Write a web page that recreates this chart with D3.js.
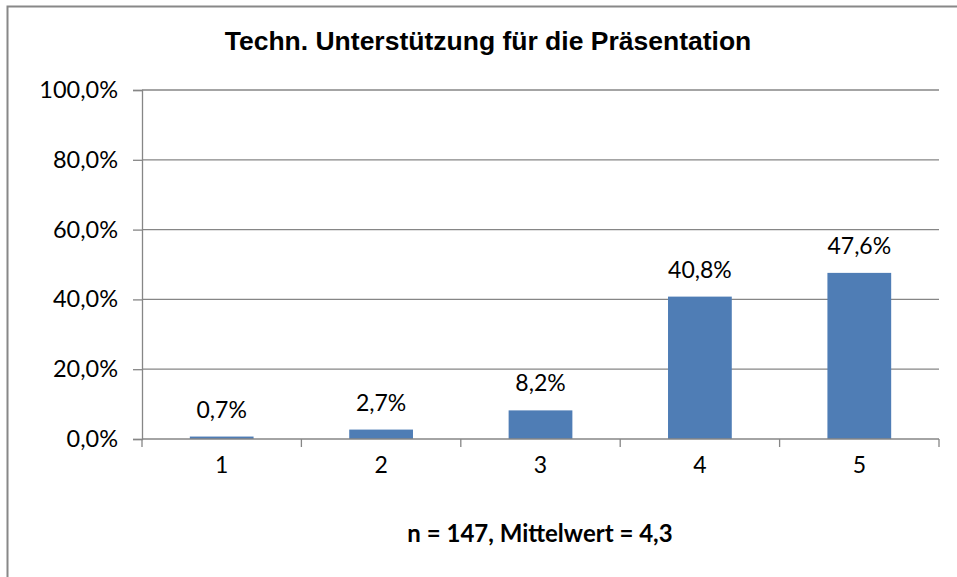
<!DOCTYPE html>
<html>
<head>
<meta charset="utf-8">
<script src="https://cdn.jsdelivr.net/npm/d3@7"></script>
<style>
	body { margin: 0; background: #fff; }
	.tick text { font-family: Lato, "Open Sans", sans-serif; font-size: 23.5px; fill: #000; }
</style>
</head>
<body>
<div id="chart"></div>
<script>
var categories = ["1", "2", "3", "4", "5"];
var values = [0.7, 2.7, 8.2, 40.8, 47.6];
var yTicks = [0, 20, 40, 60, 80, 100];
var title = "Techn. Unterstützung für die Präsentation";
var subtitle = "n = 147, Mittelwert = 4,3";

var W = 957, H = 577;
var margin = {top: 90, right: 18, bottom: 138, left: 142},
	width = W - margin.left - margin.right,
	height = H - margin.top - margin.bottom;

var fmt = function(v) { return v.toFixed(1).replace(".", ",") + "%"; };

var svg = d3.select("#chart")
	.append("svg")
	.attr("width", W)
	.attr("height", H);

// outer chart frame (right / bottom edges fall outside the picture)
svg.append("rect")
	.attr("x", 7.5)
	.attr("y", 6.5)
	.attr("width", W + 10)
	.attr("height", H + 10)
	.attr("fill", "none")
	.attr("stroke", "#888")
	.attr("stroke-width", 2);

svg.append("text")
	.attr("x", 488)
	.attr("y", 50)
	.attr("text-anchor", "middle")
	.style("font-family", "'Liberation Sans', Arial, sans-serif")
	.style("font-weight", "bold")
	.style("font-size", "26.5px")
	.text(title);

var g = svg.append("g")
	.attr("transform", "translate(" + margin.left + "," + margin.top + ")");

var x = d3.scaleBand().domain(categories).range([0, width]).paddingInner(0.6).paddingOuter(0.3);
var y = d3.scaleLinear().domain([0, 100]).range([height, 0]);

// gridlines
g.selectAll(".grid")
	.data(yTicks.slice(1))
	.enter().append("line")
	.attr("x1", 0)
	.attr("x2", width)
	.attr("y1", function(d) { return y(d); })
	.attr("y2", function(d) { return y(d); })
	.attr("stroke", "#868686")
	.attr("stroke-width", 1.3);

var yAxis = g.append("g")
	.call(d3.axisLeft(y).tickValues(yTicks).tickSize(9).tickPadding(15).tickFormat(fmt));
yAxis.select(".domain").attr("stroke", "#868686").attr("stroke-width", 1.3);
yAxis.selectAll(".tick line").attr("stroke", "#868686").attr("stroke-width", 1.3);

g.selectAll(".bar")
	.data(values)
	.enter().append("rect")
	.attr("x", function(d, i) { return x(categories[i]); })
	.attr("y", function(d) { return y(d); })
	.attr("width", x.bandwidth())
	.attr("height", function(d) { return height - y(d); })
	.attr("fill", "#4f7db5");

g.selectAll(".label")
	.data(values)
	.enter().append("text")
	.attr("x", function(d, i) { return x(categories[i]) + x.bandwidth() / 2; })
	.attr("y", function(d) { return y(d) - 19; })
	.attr("text-anchor", "middle")
	.style("font-family", "Lato, 'Open Sans', sans-serif")
	.style("font-size", "23px")
	.text(fmt);

// x axis with ticks between categories
var xAxis = g.append("g")
	.attr("transform", "translate(0," + height + ")");
xAxis.append("line")
	.attr("x1", 0).attr("x2", width)
	.attr("stroke", "#868686").attr("stroke-width", 1.3);
xAxis.selectAll(".sep")
	.data(d3.range(categories.length + 1))
	.enter().append("line")
	.attr("x1", function(i) { return i * x.step(); })
	.attr("x2", function(i) { return i * x.step(); })
	.attr("y1", 0).attr("y2", 8)
	.attr("stroke", "#868686").attr("stroke-width", 1.3);
xAxis.selectAll(".cat")
	.data(categories)
	.enter().append("text")
	.attr("x", function(d) { return x(d) + x.bandwidth() / 2; })
	.attr("y", 34)
	.attr("text-anchor", "middle")
	.style("font-family", "Lato, 'Open Sans', sans-serif")
	.style("font-size", "23px")
	.text(function(d) { return d; });

svg.append("text")
	.attr("x", 540)
	.attr("y", 542)
	.attr("text-anchor", "middle")
	.style("font-family", "Lato, 'Open Sans', sans-serif")
	.style("font-weight", "bold")
	.style("font-size", "24px")
	.text(subtitle);
</script>
</body>
</html>
